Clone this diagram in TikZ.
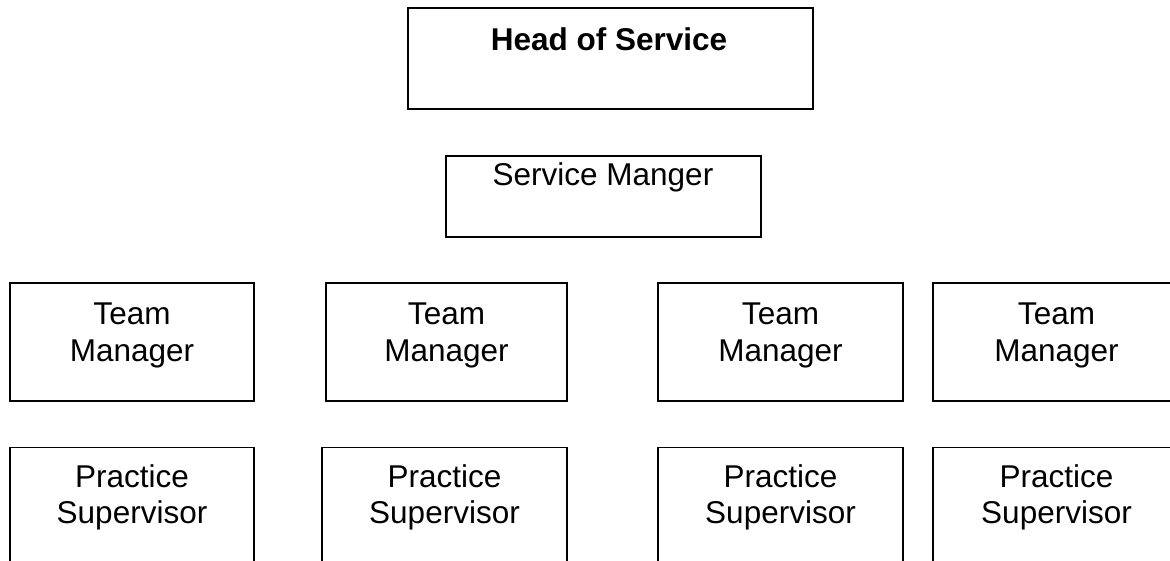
\documentclass[tikz,border=0pt]{standalone}
\usepackage{fontspec}
\setmainfont{Liberation Sans}
\begin{document}
\begin{tikzpicture}[x=1pt,y=-1pt,
  box/.style={draw=black, line width=1.4pt, inner sep=0pt, rectangle},
  lbl/.style={anchor=base, inner sep=0pt, font=\fontsize{31.5}{37}\selectfont}]
\useasboundingbox (0,0) rectangle (1170,560);
\clip (0,0) rectangle (1170,560);
% top boxes
\node[box, minimum width=405pt, minimum height=101pt] (hos) at (610.5,58.5) {};
\node[lbl, font=\fontsize{31.5}{37}\selectfont\bfseries] (host) at (609,50) {Head of Service};
\node[box, minimum width=315pt, minimum height=81pt] (sm) at (603.5,196.5) {};
\node[lbl] (smt) at (603,185) {Service Manger};
% team managers
\foreach \n/\cx/\w in {1/132/244, 2/446.5/241, 3/780.5/245, 4/1056.5/247}{
  \node[box, minimum width=\w pt, minimum height=118pt] (tm\n) at (\cx,342) {};
  \node[lbl] (tm\n a) at (\cx,324) {Team};
  \node[lbl] (tm\n b) at (\cx,361) {Manager};
}
% practice supervisors
\foreach \n/\cx/\w in {1/132/244, 2/444.5/245, 3/780.5/245, 4/1056.5/247}{
  \node[box, minimum width=\w pt, minimum height=140pt] (ps\n) at (\cx,517.5) {};
  \node[lbl] (ps\n a) at (\cx,487) {Practice};
  \node[lbl] (ps\n b) at (\cx,523) {Supervisor};
}
\end{tikzpicture}
\end{document}
